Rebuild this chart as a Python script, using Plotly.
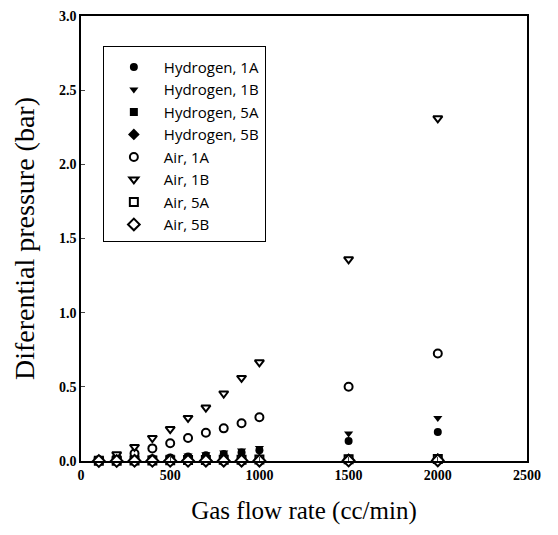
import plotly.graph_objects as go

flow = [100, 200, 300, 400, 500, 600, 700, 800, 900, 1000, 1500, 2000]

h2_1a = [0.003, 0.007, 0.012, 0.018, 0.024, 0.030, 0.038, 0.047, 0.058, 0.072, 0.135, 0.195]
h2_1b = [0.004, 0.009, 0.015, 0.022, 0.029, 0.037, 0.046, 0.057, 0.070, 0.088, 0.185, 0.290]
h2_5a = [0.001, 0.002, 0.003, 0.004, 0.005, 0.006, 0.007, 0.008, 0.009, 0.010, 0.015, 0.020]
h2_5b = [0.001, 0.001, 0.002, 0.003, 0.003, 0.004, 0.005, 0.005, 0.006, 0.007, 0.010, 0.014]
air_1a = [0.005, 0.020, 0.050, 0.085, 0.120, 0.155, 0.190, 0.220, 0.255, 0.295, 0.500, 0.725]
air_1b = [0.010, 0.045, 0.095, 0.155, 0.215, 0.290, 0.360, 0.455, 0.560, 0.665, 1.360, 2.310]
air_5a = [0.001, 0.002, 0.003, 0.004, 0.005, 0.006, 0.007, 0.008, 0.009, 0.010, 0.012, 0.014]
air_5b = [0.000, 0.000, 0.001, 0.001, 0.001, 0.001, 0.002, 0.002, 0.002, 0.002, 0.003, 0.004]

series = [
    ("Hydrogen, 1A", h2_1a, "circle", True),
    ("Hydrogen, 1B", h2_1b, "triangle-down", True),
    ("Hydrogen, 5A", h2_5a, "square", True),
    ("Hydrogen, 5B", h2_5b, "diamond", True),
    ("Air, 1A", air_1a, "circle", False),
    ("Air, 1B", air_1b, "triangle-down", False),
    ("Air, 5A", air_5a, "square", False),
    ("Air, 5B", air_5b, "diamond", False),
]

fig = go.Figure()
for name, vals, sym, filled in series:
    fig.add_trace(go.Scatter(
        x=flow, y=vals, name=name, mode="markers", cliponaxis=False,
        marker=dict(symbol=sym, size=8 if sym != "diamond" else 9,
                    color="black" if filled else "white",
                    line=dict(color="black", width=0 if filled else 2)),
    ))

serif = "Liberation Serif"
fig.update_layout(
    width=550, height=527,
    margin=dict(l=73, r=31, t=8, b=74),
    paper_bgcolor="white", plot_bgcolor="white",
    font=dict(family=serif, color="black"),
    showlegend=True,
    legend=dict(x=0.049, y=0.933, xanchor="left", yanchor="top",
                bordercolor="black", borderwidth=1, bgcolor="white",
                font=dict(family="Open Sans", size=15, color="black"),
                title=dict(text=" ", font=dict(size=3)),
                tracegroupgap=0, itemwidth=50),
    xaxis=dict(range=[0, 2500], tickvals=[0, 500, 1000, 1500, 2000, 2500],
               automargin=False, ticklabeloverflow="allow",
               ticks="inside", ticklen=4, showline=True, linecolor="black",
               linewidth=1.5, mirror=True, showgrid=False, zeroline=False,
               tickfont=dict(family=serif, size=14, color="black", weight="bold"),
               title=dict(text="Gas flow rate (cc/min)", font=dict(family=serif, size=25),
                          standoff=20)),
    yaxis=dict(range=[0, 3.0], tickvals=[0, 0.5, 1.0, 1.5, 2.0, 2.5, 3.0],
               tickformat=".1f", automargin=False, ticklabeloverflow="allow",
               ticks="inside", ticklen=4, showline=True, linecolor="black",
               linewidth=1.5, mirror=True, showgrid=False, zeroline=False,
               tickfont=dict(family=serif, size=14, color="black", weight="bold"),
               title=dict(text="Diferential pressure (bar)", font=dict(family=serif, size=28),
                          standoff=16)),
)

fig.write_html("out.html")
